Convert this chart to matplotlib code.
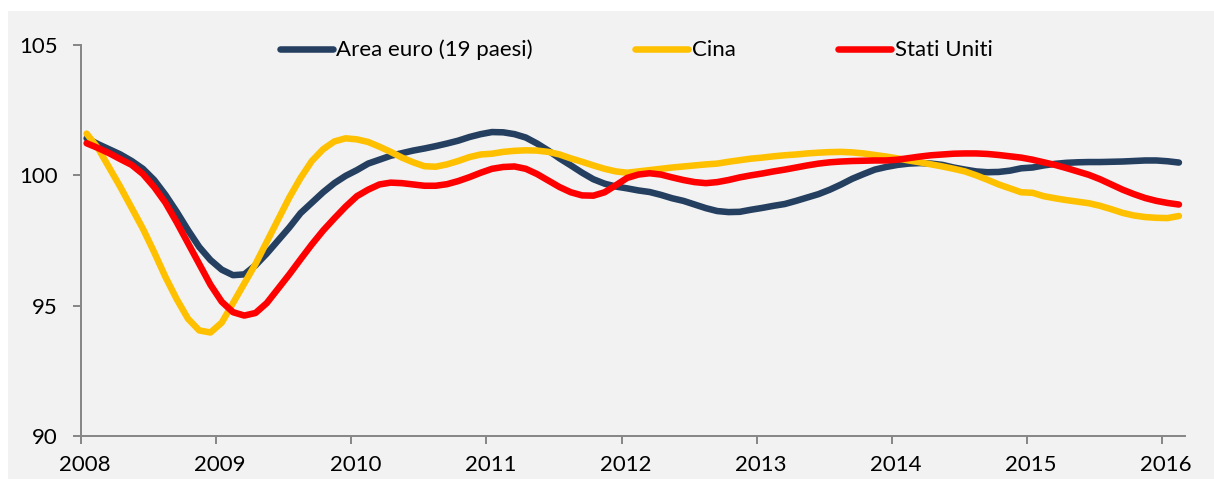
import numpy as np
import matplotlib
matplotlib.use("Agg")
import matplotlib.pyplot as plt
import matplotlib.transforms as mtransforms
from matplotlib.patches import Rectangle

# monthly values, Jan 2008 .. Feb 2016
area_euro = [
    101.42, 101.2, 101.0, 100.8, 100.55, 100.25, 99.82, 99.25, 98.6, 97.9, 97.25, 96.75,
    96.38, 96.17, 96.2, 96.55, 97.0, 97.5, 98.0, 98.55, 98.95, 99.35, 99.7, 99.98,
    100.2, 100.45, 100.6, 100.75, 100.85, 100.95, 101.03, 101.12, 101.22, 101.33, 101.47, 101.58,
    101.66, 101.65, 101.58, 101.45, 101.22, 100.95, 100.65, 100.38, 100.1, 99.85, 99.68, 99.57,
    99.5, 99.42, 99.36, 99.25, 99.12, 99.02, 98.88, 98.74, 98.63, 98.59, 98.6, 98.68,
    98.75, 98.83, 98.9, 99.02, 99.15, 99.28, 99.45, 99.65, 99.87, 100.05, 100.22, 100.32,
    100.4, 100.45, 100.47, 100.45, 100.4, 100.3, 100.22, 100.15, 100.12, 100.13, 100.18, 100.27,
    100.3, 100.38, 100.44, 100.48, 100.5, 100.51, 100.51, 100.52, 100.53, 100.55, 100.57, 100.57,
    100.54, 100.49,
]
cina = [
    101.6, 101.05, 100.3, 99.55, 98.75, 97.95, 97.05, 96.1, 95.25, 94.5, 94.05, 93.97,
    94.35, 95.1, 95.85, 96.6, 97.45, 98.3, 99.15, 99.9, 100.55, 101.0, 101.3, 101.42,
    101.38, 101.28, 101.1, 100.9, 100.68, 100.5, 100.35, 100.33, 100.42, 100.55, 100.7, 100.8,
    100.83, 100.9, 100.94, 100.96, 100.95, 100.9, 100.8, 100.65, 100.52, 100.38, 100.25, 100.15,
    100.1, 100.15, 100.2, 100.25, 100.3, 100.34, 100.38, 100.42, 100.45, 100.52, 100.58, 100.64,
    100.68, 100.73, 100.77, 100.8, 100.84, 100.87, 100.89, 100.9, 100.88, 100.84, 100.78, 100.72,
    100.65, 100.57, 100.5, 100.42, 100.34, 100.25, 100.15, 100.0, 99.83, 99.65, 99.5, 99.35,
    99.33, 99.2, 99.12, 99.05, 98.99, 98.93, 98.83, 98.7, 98.56, 98.46, 98.4, 98.37,
    98.36, 98.44,
]
stati_uniti = [
    101.23, 101.05, 100.85, 100.62, 100.4, 100.05, 99.55, 98.95, 98.2, 97.4, 96.6, 95.8,
    95.15, 94.75, 94.62, 94.72, 95.1, 95.65, 96.2, 96.78, 97.35, 97.88, 98.35, 98.8,
    99.2, 99.45, 99.65, 99.72, 99.7, 99.65, 99.6, 99.6, 99.66, 99.78, 99.93, 100.1,
    100.25, 100.32, 100.34, 100.25, 100.05, 99.8, 99.55, 99.35, 99.23, 99.22, 99.35, 99.62,
    99.9, 100.03, 100.08, 100.03, 99.92, 99.82, 99.74, 99.7, 99.74, 99.82, 99.92, 100.0,
    100.07, 100.15, 100.22, 100.3, 100.38, 100.45, 100.5, 100.53, 100.55, 100.56, 100.57, 100.57,
    100.6, 100.66, 100.72, 100.77, 100.8, 100.83, 100.84, 100.84, 100.82, 100.78, 100.73, 100.68,
    100.6, 100.5, 100.4, 100.28, 100.15, 100.02, 99.85, 99.65, 99.45, 99.28, 99.13, 99.02,
    98.94, 98.88,
]
series_names = ["Area euro (19 paesi)", "Cina", "Stati Uniti"]
series_colors = ["#243F60", "#FFC000", "#FF0000"]
years = list(range(2008, 2017))

plt.rcParams['font.family'] = ['Lato', 'DejaVu Sans']

fig = plt.figure(figsize=(12.14, 4.79), dpi=100)
fig.patch.set_facecolor("white")
fig.patches.append(Rectangle((8 / 1214, 0), 1 - 8 / 1214, 1 - 11 / 479,
                             transform=fig.transFigure, facecolor="#F2F2F2",
                             edgecolor="none", zorder=-1))

ax = fig.add_axes([81 / 1214, 43 / 479, 1104 / 1214, 391 / 479])
ax.set_facecolor("#F2F2F2")

t = 2008 + (np.arange(len(area_euro)) + 0.5) / 12
for vals, name, col in zip([area_euro, cina, stati_uniti], series_names, series_colors):
    ax.plot(t, vals, color=col, lw=4.7, label=name,
            solid_capstyle="round", solid_joinstyle="round")

ax.set_xlim(2008, 2016.17)
ax.set_ylim(90, 105)
ax.set_yticks([90, 95, 100, 105])
ax.set_xticks(years)
ax.set_xticklabels([str(y) for y in years])

for s in ["top", "right"]:
    ax.spines[s].set_visible(False)
for s in ["left", "bottom"]:
    ax.spines[s].set_color("#868686")
    ax.spines[s].set_linewidth(1.4)
ax.tick_params(axis="both", direction="out", length=6, width=1.4,
               color="#868686", labelsize=16, labelcolor="black")
ax.tick_params(axis="y", pad=11)
ax.tick_params(axis="x", pad=8)

# year labels sit a few pixels right of their ticks
shift = mtransforms.ScaledTranslation(4 / 100, 0, fig.dpi_scale_trans)
for lab in ax.get_xticklabels():
    lab.set_transform(lab.get_transform() + shift)

leg = fig.legend(loc="center", bbox_to_anchor=(636 / 1214, 1 - 50 / 479), ncol=3,
                 frameon=False, fontsize=16, handlelength=2.4,
                 handletextpad=0.15, columnspacing=4.6)
for h in leg.get_lines():
    h.set_linewidth(4.7)
    h.set_solid_capstyle("round")

fig.savefig("out.png", dpi=100, facecolor=fig.get_facecolor())
